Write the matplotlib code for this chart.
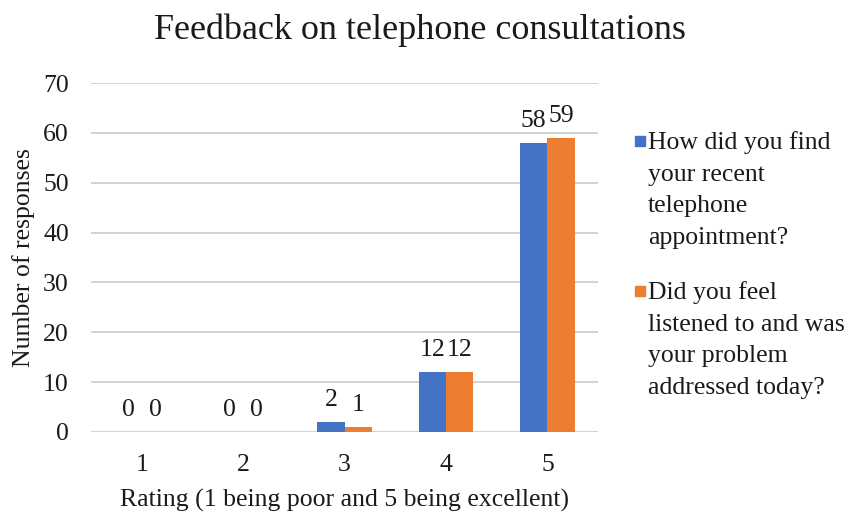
import matplotlib.pyplot as plt
from matplotlib.patches import Rectangle
import numpy as np

ratings = ["1", "2", "3", "4", "5"]
found_appointment = [0, 0, 2, 12, 58]
felt_listened = [0, 0, 1, 12, 59]
series_labels = [
    "How did you find\nyour recent\ntelephone\nappointment?",
    "Did you feel\nlistened to and was\nyour problem\naddressed today?",
]
y_ticks = [0, 10, 20, 30, 40, 50, 60, 70]

BLUE = "#4472C4"
ORANGE = "#ED7D31"
TXT = "#1a1a1a"
FS = 18.5

plt.rcParams["font.family"] = ["Liberation Serif", "DejaVu Serif"]

W, H = 861, 513
fig = plt.figure(figsize=(W / 100, H / 100), dpi=100)
ax = fig.add_axes([0.1057, 0.158, 0.589, 0.68])

x = np.arange(1, len(ratings) + 1)
w = 0.27
b1 = ax.bar(x - w / 2, found_appointment, w, color=BLUE, zorder=3)
b2 = ax.bar(x + w / 2, felt_listened, w, color=ORANGE, zorder=3)

for bars, vals in ((b1, found_appointment), (b2, felt_listened)):
    for rect, v in zip(bars, vals):
        ax.annotate(str(v), (rect.get_x() + rect.get_width() / 2, v),
                    xytext=(0, 8), textcoords="offset points",
                    ha="center", va="bottom", fontsize=FS, color=TXT)

ax.set_xlim(0.5, 5.5)
ax.set_ylim(0, 70)
ax.set_xticks(x)
ax.set_xticklabels(ratings)
ax.set_yticks(y_ticks)
ax.tick_params(axis="both", length=0, labelsize=FS, colors=TXT)
ax.tick_params(axis="x", pad=16)
ax.tick_params(axis="y", pad=16)
ax.grid(axis="y", color="#D0D0D0", linewidth=1.3, zorder=0)
for s in ax.spines.values():
    s.set_visible(False)

ax.set_xlabel("Rating (1 being poor and 5 being excellent)", fontsize=FS,
              color=TXT, labelpad=9)
ax.set_ylabel("Number of responses", fontsize=FS, color=TXT, labelpad=6)
fig.text(0.5 * (150 + 690) / W, 1 - 30 / H, "Feedback on telephone consultations",
         fontsize=26, color=TXT, ha="center", va="center")

# legend drawn by hand: small squares beside wrapped labels
for color, label, ycen in ((BLUE, series_labels[0], 141), (ORANGE, series_labels[1], 291)):
    fig.patches.append(Rectangle((635 / W, 1 - (ycen + 5) / H), 10 / W, 10 / H,
                                 transform=fig.transFigure, color=color))
    fig.text(648 / W, 1 - (ycen - 10) / H, label, fontsize=FS, color=TXT,
             ha="left", va="top", linespacing=1.57)

fig.savefig("out.png", dpi=100)
